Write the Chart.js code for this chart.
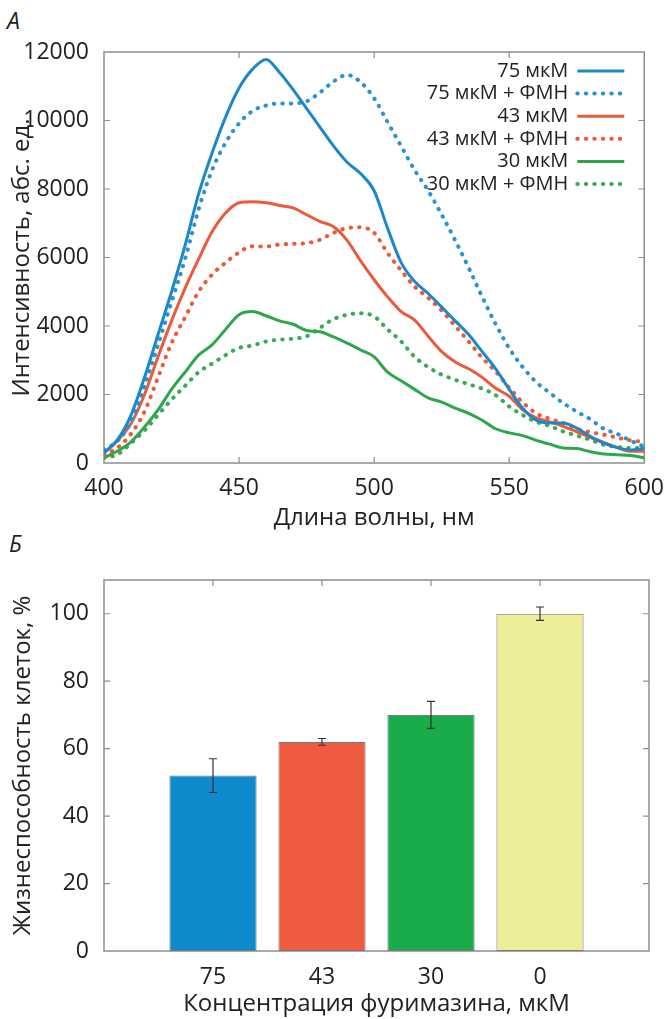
<!DOCTYPE html>
<html>
<head>
<meta charset="utf-8">
<script src="https://cdn.jsdelivr.net/npm/chart.js@4/dist/chart.umd.min.js"></script>
<style>
  body { margin: 0; background: #fff; }
  #wrap { position: relative; width: 668px; height: 1019px; font-family: 'Open Sans', sans-serif; }
  canvas { position: absolute; left: 0; }
  .panel { position: absolute; font-style: italic; font-size: 23px; color: #222; }
</style>
</head>
<body>
<div id="wrap">
  <div class="panel" style="left:7px; top:4px;">А</div>
  <canvas id="spectra" width="668" height="540" style="top:0"></canvas>
  <div class="panel" style="left:9px; top:527px;">Б</div>
  <canvas id="viab" width="668" height="479" style="top:540px"></canvas>
</div>
<script>
// panel A: luminescence spectra
const wavelengths = [400, 405, 410, 415, 420, 425, 430, 435, 440, 445, 450, 455, 460, 465, 470, 475, 480, 485, 490, 495,
  500, 505, 510, 515, 520, 525, 530, 535, 540, 545, 550, 555, 560, 565, 570, 575, 580, 585, 590, 595, 600]
const int75 = [300, 680, 1400, 2500, 3750, 5000, 6350, 7850, 9050, 10100, 10950, 11500, 11780, 11400, 10900, 10350, 9800, 9250, 8780, 8450,
  7950, 6850, 5850, 5300, 4950, 4550, 4150, 3750, 3250, 2750, 2150, 1600, 1250, 1170, 1170, 1020, 780, 580, 450, 380, 430]
const int75fmn = [380, 650, 1200, 2250, 3450, 4700, 5950, 7400, 8550, 9350, 9920, 10280, 10440, 10500, 10500, 10560, 10820, 11140, 11330, 11120,
  10650, 9950, 9250, 8550, 7950, 7250, 6500, 5700, 4850, 4050, 3350, 2800, 2360, 2050, 1750, 1500, 1280, 1000, 850, 650, 480]
const int43 = [290, 650, 1150, 2000, 3100, 4150, 5100, 5950, 6750, 7300, 7600, 7630, 7600, 7520, 7450, 7250, 7050, 6900, 6500, 5900,
  5350, 4850, 4420, 4170, 3700, 3250, 2950, 2750, 2500, 2180, 1950, 1550, 1320, 1200, 1070, 910, 750, 600, 450, 340, 340]
const int43fmn = [240, 450, 850, 1500, 2500, 3500, 4250, 5000, 5500, 5850, 6150, 6330, 6320, 6380, 6400, 6420, 6520, 6720, 6860, 6880,
  6720, 6130, 5620, 5150, 4820, 4450, 4000, 3550, 3070, 2670, 2200, 1770, 1450, 1290, 1170, 1000, 900, 830, 740, 660, 620]
const int30 = [150, 350, 620, 1050, 1550, 2150, 2650, 3150, 3450, 3900, 4330, 4420, 4300, 4150, 4050, 3870, 3830, 3680, 3500, 3300,
  3100, 2650, 2400, 2150, 1900, 1780, 1600, 1450, 1250, 1000, 880, 800, 660, 550, 440, 420, 330, 260, 240, 220, 150]
const int30fmn = [150, 250, 580, 950, 1400, 1850, 2250, 2650, 2900, 3150, 3360, 3430, 3550, 3600, 3630, 3700, 3950, 4200, 4330, 4370,
  4280, 3900, 3550, 3100, 2800, 2580, 2430, 2300, 2170, 1980, 1650, 1400, 1200, 1080, 920, 800, 680, 530, 470, 440, 440]
const seriesLabels = ['75 мкМ', '75 мкМ + ФМН', '43 мкМ', '43 мкМ + ФМН', '30 мкМ', '30 мкМ + ФМН']
const seriesData = [int75, int75fmn, int43, int43fmn, int30, int30fmn]
const seriesColors = ['#1d88c9', '#2a93d2', '#ec5a3c', '#ec5a3c', '#2ea64b', '#3aab55']
const seriesDotted = [false, true, false, true, false, true]

// panel B: cell viability
const concLabels = ['75', '43', '30', '0']
const viability = [52, 62, 70, 100]
const viabilityErr = [5, 1, 4, 2]
const barColors = ['#0f8bcd', '#ef5b40', '#1aab4b', '#eeed98']

Chart.defaults.font.family = '"Open Sans", sans-serif'
Chart.defaults.color = '#222'

const frameColor = '#8e8e8e'

// box round the plot with short inward ticks
const frameTicks = {
  id: 'frameTicks',
  beforeDatasetsDraw(chart, args, opts) {
    const { ctx, chartArea: { left, right, top, bottom }, scales: { x, y } } = chart
    ctx.save()
    ctx.strokeStyle = frameColor
    ctx.lineWidth = 1.5
    ctx.strokeRect(left, top, right - left, bottom - top)
    ctx.lineWidth = 1.2
    ctx.beginPath()
    x.ticks.forEach(t => {
      if (t.value <= x.min || t.value >= x.max) return
      const px = x.getPixelForValue(t.value)
      ctx.moveTo(px, top); ctx.lineTo(px, top + 6)
      if (opts.bottomTicks) { ctx.moveTo(px, bottom); ctx.lineTo(px, bottom - 6) }
    })
    y.ticks.forEach(t => {
      if (t.value <= y.min || t.value >= y.max) return
      const py = y.getPixelForValue(t.value)
      ctx.moveTo(left, py); ctx.lineTo(left + 6, py)
      ctx.moveTo(right, py); ctx.lineTo(right - 6, py)
    })
    ctx.stroke()
    ctx.restore()
  }
}

// legend: text right aligned, line sample to the right of it
const sideLegend = {
  id: 'sideLegend',
  afterDatasetsDraw(chart) {
    const { ctx, chartArea: { right, top } } = chart
    ctx.save()
    ctx.font = '20px "Open Sans", sans-serif'
    ctx.textAlign = 'right'
    ctx.textBaseline = 'middle'
    chart.data.datasets.forEach((ds, i) => {
      const yy = top + 19 + i * 22.6
      const x1 = right - 20
      const x0 = x1 - 47
      ctx.fillStyle = '#222'
      ctx.fillText(ds.label, x0 - 9, yy)
      ctx.strokeStyle = ds.borderColor
      ctx.lineWidth = ds.borderWidth
      ctx.lineCap = ds.borderCapStyle
      ctx.setLineDash(ds.borderDash)
      ctx.beginPath()
      ctx.moveTo(x0, yy); ctx.lineTo(x1, yy)
      ctx.stroke()
    })
    ctx.restore()
  }
}

// error bars from viabilityErr
const errorBars = {
  id: 'errorBars',
  afterDatasetsDraw(chart) {
    const { ctx, scales: { x, y } } = chart
    ctx.save()
    ctx.strokeStyle = '#333'
    ctx.lineWidth = 1.2
    ctx.beginPath()
    viability.forEach((v, i) => {
      const px = x.getPixelForValue(i + 1)
      const hi = y.getPixelForValue(v + viabilityErr[i])
      const lo = y.getPixelForValue(v - viabilityErr[i])
      ctx.moveTo(px, hi); ctx.lineTo(px, lo)
      ctx.moveTo(px - 4, hi); ctx.lineTo(px + 4, hi)
      ctx.moveTo(px - 4, lo); ctx.lineTo(px + 4, lo)
    })
    ctx.stroke()
    ctx.restore()
  }
}

const tickFont = { size: 23 }
const titleFont = { size: 24 }

new Chart(document.getElementById('spectra'), {
  type: 'line',
  plugins: [frameTicks, sideLegend],
  data: {
    datasets: seriesData.map((vals, i) => ({
      label: seriesLabels[i],
      data: vals.map((v, j) => ({ x: wavelengths[j], y: v })),
      borderColor: seriesColors[i],
      borderWidth: seriesDotted[i] ? 4 : 3,
      borderDash: seriesDotted[i] ? [0.5, 8] : [],
      borderCapStyle: seriesDotted[i] ? 'round' : 'butt',
      pointRadius: 0,
      cubicInterpolationMode: 'monotone',
      fill: false
    }))
  },
  options: {
    responsive: false,
    animation: false,
    devicePixelRatio: 1,
    layout: { padding: { top: 52, right: 19, left: 0, bottom: 0 } },
    plugins: { legend: { display: false }, tooltip: { enabled: false }, frameTicks: { bottomTicks: true } },
    scales: {
      x: {
        type: 'linear', min: 400, max: 600,
        afterFit: s => { s.height = 77 },
        grid: { display: false },
        border: { display: false },
        ticks: { stepSize: 50, padding: 4, font: tickFont, maxRotation: 0 },
        title: { display: true, text: 'Длина волны, нм', font: titleFont, padding: { top: 0, bottom: 7 } }
      },
      y: {
        min: 0, max: 12000,
        afterFit: s => { s.width = 104 },
        grid: { display: false },
        border: { display: false },
        ticks: { stepSize: 2000, padding: 7, font: tickFont, callback: v => String(v) },
        title: { display: true, text: 'Интенсивность, абс. ед.', font: titleFont, padding: { top: 8, bottom: 0 } }
      }
    }
  }
})

new Chart(document.getElementById('viab'), {
  type: 'bar',
  plugins: [frameTicks, errorBars],
  data: {
    datasets: [{
      data: viability.map((v, i) => ({ x: i + 1, y: v })),
      backgroundColor: barColors,
      borderColor: '#7a7a7a',
      borderWidth: 1,
      borderSkipped: false,
      categoryPercentage: 1,
      barPercentage: 0.8
    }]
  },
  options: {
    responsive: false,
    animation: false,
    devicePixelRatio: 1,
    layout: { padding: { top: 40, right: 19, left: 0, bottom: 0 } },
    plugins: { legend: { display: false }, tooltip: { enabled: false }, frameTicks: { bottomTicks: false } },
    scales: {
      x: {
        type: 'linear', min: 0, max: 5, offset: false,
        afterFit: s => { s.height = 68 },
        grid: { display: false, offset: false },
        border: { display: false },
        ticks: { stepSize: 1, padding: 5, font: tickFont, maxRotation: 0, callback: v => concLabels[v - 1] ?? '' },
        title: { display: true, text: 'Концентрация фуримазина, мкМ', font: titleFont, padding: { top: 0, bottom: 0 } }
      },
      y: {
        min: 0, max: 110,
        afterFit: s => { s.width = 104 },
        grid: { display: false },
        border: { display: false },
        ticks: { stepSize: 20, padding: 7, font: tickFont, callback: v => (v > 100 ? '' : String(v)) },
        title: { display: true, text: 'Жизнеспособность клеток, %', font: titleFont, padding: { top: 9, bottom: 0 } }
      }
    }
  }
})
</script>
</body>
</html>
